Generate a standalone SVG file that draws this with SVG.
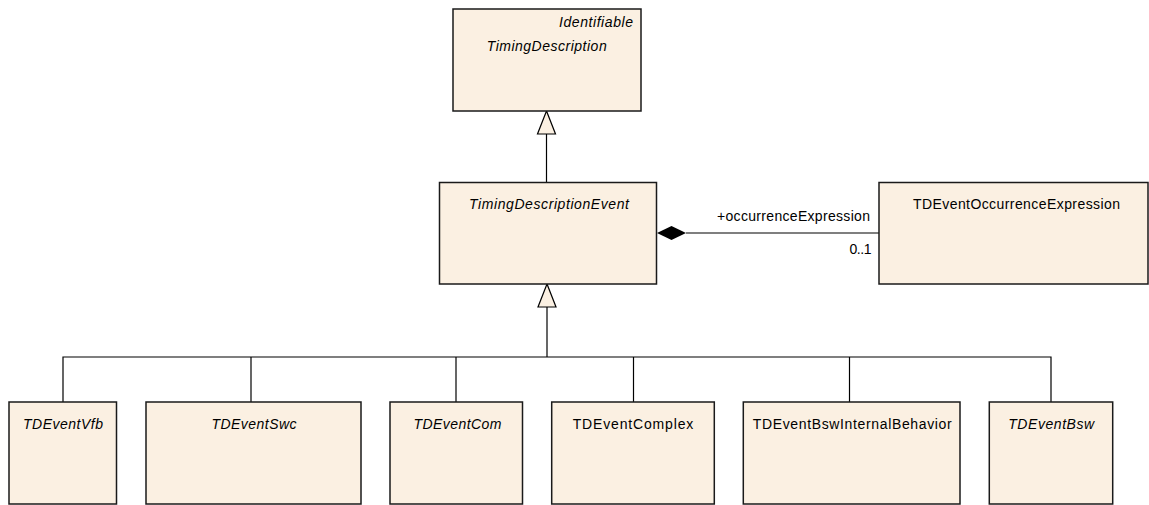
<svg xmlns="http://www.w3.org/2000/svg" width="1149" height="505" viewBox="0 0 1149 505">
<style>
.box{fill:#FBF0E2;stroke:#1a1a1a;stroke-width:1.5}
.t{font-family:"Liberation Sans",Arial,sans-serif;font-size:14px;fill:#000}
.i{font-style:italic}
.m{text-anchor:middle}
.e{text-anchor:end}
.ln{fill:none;stroke:#000;stroke-width:1.2}
.gen{fill:#FBF0E2;stroke:#000;stroke-width:1.2}
</style>
<rect width="1149" height="505" fill="#fff"/>
<g id="connectors">
<line class="ln" x1="546.5" y1="134" x2="546.5" y2="182"/>
<polygon class="gen" points="546.5,111 537.5,134 555.5,134"/>
<polyline class="ln" points="547,307 547,357"/>
<polyline class="ln" points="63,402 63,357 1051,357 1051,402"/>
<line class="ln" x1="251" y1="357" x2="251" y2="402"/>
<line class="ln" x1="456" y1="357" x2="456" y2="402"/>
<line class="ln" x1="633.5" y1="357" x2="633.5" y2="402"/>
<line class="ln" x1="849.5" y1="357" x2="849.5" y2="402"/>
<polygon class="gen" points="547,284 538,307 556,307"/>
<line class="ln" x1="686" y1="233" x2="879" y2="233"/>
<polygon points="657,233 671.5,226 686,233 671.5,240" fill="#000"/>
<text class="t e" x="870" y="220.5" textLength="153">+occurrenceExpression</text>
<text class="t e" x="871.5" y="254" textLength="22">0..1</text>
</g>
<g id="TimingDescription">
<rect class="box" x="453" y="9" width="188" height="102"/>
<text class="t i e" x="633" y="26.5" textLength="74">Identifiable</text>
<text class="t i m" x="546.7" y="50.5" textLength="120">TimingDescription</text>
</g>
<g id="TimingDescriptionEvent">
<rect class="box" x="439.5" y="182.5" width="217" height="101.5"/>
<text class="t i m" x="549" y="209" textLength="160">TimingDescriptionEvent</text>
</g>
<g id="TDEventOccurrenceExpression">
<rect class="box" x="879" y="182.5" width="269" height="101.5"/>
<text class="t m" x="1016.5" y="208.5" textLength="207">TDEventOccurrenceExpression</text>
</g>
<g id="TDEventVfb">
<rect class="box" x="9" y="402" width="107.5" height="102"/>
<text class="t i m" x="63" y="429.3" textLength="80">TDEventVfb</text>
</g>
<g id="TDEventSwc">
<rect class="box" x="146" y="402" width="215" height="102"/>
<text class="t i m" x="254" y="429.3" textLength="85">TDEventSwc</text>
</g>
<g id="TDEventCom">
<rect class="box" x="390" y="402" width="132.5" height="102"/>
<text class="t i m" x="457.5" y="429.3" textLength="88">TDEventCom</text>
</g>
<g id="TDEventComplex">
<rect class="box" x="551.7" y="402" width="162.6" height="102"/>
<text class="t m" x="633" y="429.3" textLength="120.6">TDEventComplex</text>
</g>
<g id="TDEventBswInternalBehavior">
<rect class="box" x="743.3" y="402" width="216.7" height="102"/>
<text class="t m" x="852.2" y="429.3" textLength="199">TDEventBswInternalBehavior</text>
</g>
<g id="TDEventBsw">
<rect class="box" x="989.3" y="402" width="123.4" height="102"/>
<text class="t i m" x="1051.2" y="429.3" textLength="86">TDEventBsw</text>
</g>
</svg>
